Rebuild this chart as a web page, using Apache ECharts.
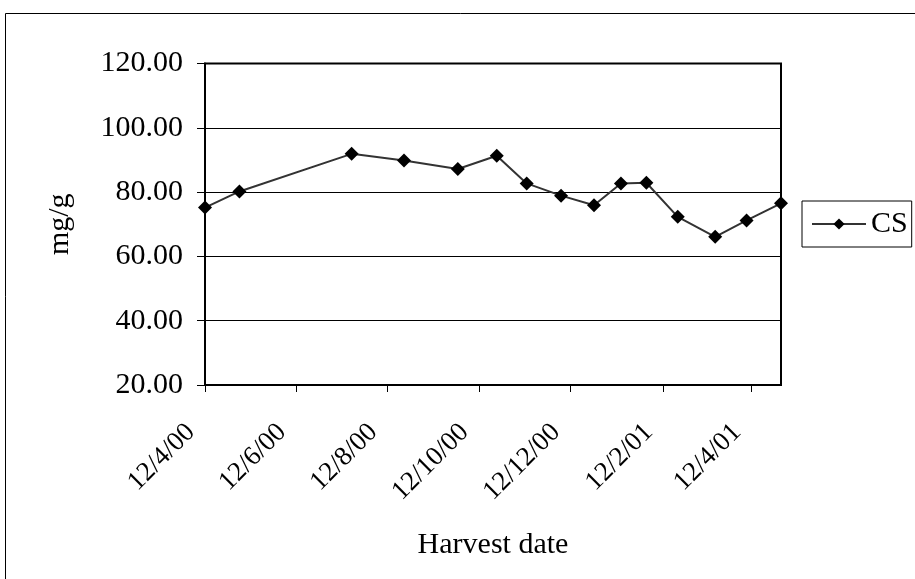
<!DOCTYPE html>
<html>
<head>
<meta charset="utf-8">
<script src="https://cdn.jsdelivr.net/npm/echarts@6/dist/echarts.min.js"></script>
<style>
  html, body { margin: 0; padding: 0; background: #fff; }
  #chart { width: 915px; height: 579px; }
</style>
</head>
<body>
<div id="chart"></div>
<script>
// Harvest dates (day/month/year) and CS content in mg/g
const harvestDates = ['2000-04-12', '2000-05-05', '2000-07-19', '2000-08-23', '2000-09-28',
  '2000-10-24', '2000-11-13', '2000-12-06', '2000-12-28', '2001-01-15', '2001-02-01',
  '2001-02-22', '2001-03-19', '2001-04-09', '2001-05-02'];
const csValues = [75.2, 80.2, 91.9, 89.8, 87.2, 91.3, 82.7, 78.9, 75.9, 82.7, 82.9,
  72.3, 66.1, 71.2, 76.5];

// Date axis ticks, every two months, and their labels
const tickDates = ['2000-04-12', '2000-06-12', '2000-08-12', '2000-10-12', '2000-12-12',
  '2001-02-12', '2001-04-12'];
const tickLabels = ['12/4/00', '12/6/00', '12/8/00', '12/10/00', '12/12/00', '12/2/01', '12/4/01'];

const axisMin = '2000-04-12';
const axisMax = '2001-05-02';

// dates are placed on a linear day scale (days since the first harvest)
const DAY = 86400000;
function utc(s) {
  const p = s.split('-').map(Number);
  return Date.UTC(p[0], p[1] - 1, p[2]);
}
const origin = utc(axisMin);
function dayOf(s) { return Math.round((utc(s) - origin) / DAY); }

const tickDays = tickDates.map(dayOf);
const seriesData = harvestDates.map((d, i) => [dayOf(d), csValues[i]]);

const FONT = '"Liberation Serif", "Times New Roman", serif';

const chart = echarts.init(document.getElementById('chart'), null, { renderer: 'canvas' });

chart.setOption({
  animation: false,
  backgroundColor: '#ffffff',
  textStyle: { fontFamily: FONT, color: '#000' },
  graphic: [{
    type: 'rect',
    silent: true,
    shape: { x: 5.5, y: 13.5, width: 1000, height: 1000 },
    style: { fill: 'none', stroke: '#000', lineWidth: 1 }
  }],
  grid: {
    left: 205, top: 63.5, right: 134, bottom: 194,
    show: true, borderColor: '#000', borderWidth: 2, backgroundColor: 'transparent'
  },
  legend: {
    left: 802, top: 201,
    padding: [8, 4, 8, 9],
    borderColor: '#000', borderWidth: 1,
    itemWidth: 54, itemHeight: 14, itemGap: 4,
    textStyle: { fontFamily: FONT, fontSize: 30, color: '#000' },
    data: ['CS']
  },
  xAxis: {
    type: 'value',
    min: 0,
    max: dayOf(axisMax),
    name: 'Harvest date',
    nameLocation: 'middle',
    nameGap: 145,
    nameTextStyle: { fontFamily: FONT, fontSize: 30, color: '#000' },
    axisLine: { show: true, onZero: false, lineStyle: { color: '#000', width: 2 } },
    axisTick: { show: true, length: 7, lineStyle: { color: '#000', width: 1 }, customValues: tickDays },
    axisLabel: {
      customValues: tickDays,
      rotate: 45,
      margin: 29,
      padding: [0, 20, 0, 0],
      fontFamily: FONT,
      fontSize: 27,
      color: '#000',
      formatter: function (v) {
        const i = tickDays.indexOf(v);
        return i >= 0 ? tickLabels[i] : '';
      }
    },
    splitLine: { show: false }
  },
  yAxis: {
    type: 'value',
    min: 20, max: 120, interval: 20,
    name: 'mg/g',
    nameLocation: 'middle',
    nameGap: 130,
    nameTextStyle: { fontFamily: FONT, fontSize: 30, color: '#000' },
    axisLine: { show: true, lineStyle: { color: '#000', width: 2 } },
    axisTick: { show: true, inside: false, length: 8, lineStyle: { color: '#000', width: 1 } },
    axisLabel: {
      margin: 22,
      fontFamily: FONT,
      fontSize: 30,
      color: '#000',
      formatter: v => v.toFixed(2)
    },
    splitLine: { show: true, lineStyle: { color: '#000', width: 1 } }
  },
  series: [{
    name: 'CS',
    type: 'line',
    data: seriesData,
    symbol: 'diamond',
    symbolSize: 14,
    itemStyle: { color: '#000' },
    lineStyle: { color: '#333', width: 2 },
    z: 3
  }]
});
</script>
</body>
</html>
